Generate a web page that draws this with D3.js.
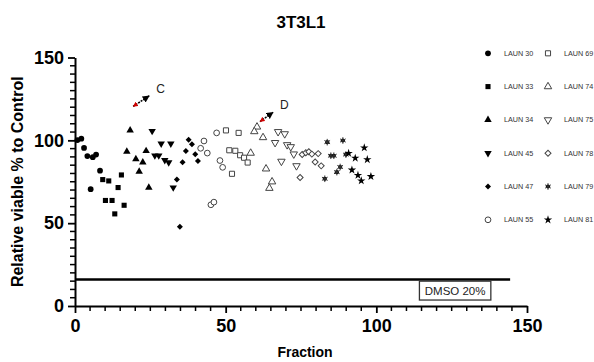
<!DOCTYPE html>
<html>
<head>
<meta charset="utf-8">
<script src="https://cdn.jsdelivr.net/npm/d3@7"></script>
<style>
  body { margin: 0; background: #fff; }
  svg { font-family: "Liberation Sans", Arial, sans-serif; }
</style>
</head>
<body>
<div id="chart"></div>
<script>
// series names and [fraction, viability] pairs
const seriesNames = ["LAUN 30", "LAUN 33", "LAUN 34", "LAUN 45", "LAUN 47", "LAUN 55",
                     "LAUN 69", "LAUN 74", "LAUN 75", "LAUN 78", "LAUN 79", "LAUN 81"];

const laun30 = [[0.8, 100.2], [2.1, 101], [3.0, 95.4], [4.1, 90.5], [5.9, 89.8], [7.0, 91.4], [8.3, 81.7], [5.2, 70.5]];
const laun33 = [[9.2, 76.3], [11.2, 75.5], [15.4, 79.1], [14.3, 71.5], [10.1, 63.7], [12.3, 63.7], [16.3, 60.8], [13.2, 55.6]];
const laun34 = [[18.3, 106], [17.2, 93.2], [20.2, 88.7], [23.6, 93.6], [22.5, 86.7], [21.3, 81.1], [24.5, 71.5]];
const laun45 = [[25.6, 105.6], [28.6, 98], [31.8, 98], [26.5, 90.8], [27.8, 90.8], [29.8, 88], [31.1, 86.7], [32.6, 71.5]];
const laun47 = [[37.7, 100.4], [38.8, 97.6], [36.8, 93.6], [39.9, 91.6], [35.7, 86.7], [40.8, 87.5], [33.8, 76.3], [34.8, 47.8]];
const laun55 = [[47.0, 104.5], [42.8, 99.6], [41.7, 95.2], [43.9, 92.3], [48.1, 87.8], [49.0, 83.7], [45.1, 61.1], [46.1, 62.7]];
const laun69 = [[50.1, 106], [54.3, 104.5], [51.2, 94], [53.2, 93.7], [54.8, 91], [56.1, 89.5], [57.3, 86.6], [52.1, 79.8]];
const laun74 = [[60.4, 108.1], [59.5, 105.3], [62.4, 101.7], [58.3, 92.3], [63.4, 82.8], [65.4, 75], [64.5, 71.1]];
const laun75 = [[67.4, 105.2], [69.6, 103.9], [66.4, 98.6], [70.4, 97.3], [71.6, 96.1], [72.6, 91.7], [68.5, 87.3], [73.5, 84.6]];
const laun78 = [[75.4, 91.4], [76.6, 92.5], [77.6, 93.1], [78.6, 91.7], [80.7, 92], [79.7, 86.9], [81.7, 84.6], [74.7, 77.6]];
const laun79 = [[83.7, 98.9], [88.9, 99.9], [84.9, 90.7], [85.9, 90.7], [89.9, 91.4], [88.0, 83.9], [86.9, 80.8], [82.9, 76.8]];
const laun81 = [[90.8, 92.2], [93.0, 89.3], [96.0, 95.5], [97.0, 88.4], [91.9, 82.1], [93.9, 78.9], [95.0, 75.6], [98.2, 78.2]];

const seriesValues = [laun30, laun33, laun34, laun45, laun47, laun55, laun69, laun74, laun75, laun78, laun79, laun81];

// symbol kind per series
const seriesShapes = ["circle", "square", "triUp", "triDown", "diamond", "circle",
                      "square", "triUp", "triDown", "diamond", "sun", "star"];
const seriesFilled = [true, true, true, true, true, false, false, false, false, false, true, true];

const xTicks = [0, 50, 100, 150];
const yTicks = [0, 50, 100, 150];

// DMSO 20% reference level
const dmsoLevel = 16;
const dmsoEnd = 144.4;

// arrow annotations: [fromX, fromY, toX, toY, label]
const arrows = [
  [19.3, 120.5, 24.6, 126.8, "C"],
  [61.4, 111.3, 65.7, 116.9, "D"]
];

const W = 594, H = 362;
const margin = { top: 57.5, left: 75, bottom: 56, right: 67 };

const svg = d3.select("#chart").append("svg")
  .attr("width", W).attr("height", H);

const x = d3.scaleLinear().domain([0, 150]).range([margin.left, W - margin.right]);
const y = d3.scaleLinear().domain([0, 150]).range([H - margin.bottom, margin.top]);

// Title
svg.append("text")
  .attr("x", 301).attr("y", 28)
  .attr("text-anchor", "middle")
  .attr("font-size", "17px").attr("font-weight", "bold")
  .text("3T3L1");

// Axes
const xAxis = svg.append("g")
  .attr("transform", `translate(0,${y(0)})`)
  .call(d3.axisBottom(x).tickValues(xTicks).tickSize(7).tickSizeOuter(0).tickPadding(6));
xAxis.append("g").selectAll("line")
  .data(d3.range(5, 150, 5).filter(v => v % 50 !== 0)).enter()
  .append("line")
  .attr("x1", d => x(d)).attr("x2", d => x(d))
  .attr("y1", 0).attr("y2", 5)
  .attr("stroke", "#000").attr("stroke-width", 1.5);

const yAxis = svg.append("g")
  .attr("transform", `translate(${x(0)},0)`)
  .call(d3.axisLeft(y).tickValues(yTicks).tickSize(7).tickSizeOuter(0).tickPadding(4));
yAxis.append("g").selectAll("line")
  .data(d3.range(5, 150, 5).filter(v => v % 50 !== 0)).enter()
  .append("line")
  .attr("y1", d => y(d)).attr("y2", d => y(d))
  .attr("x1", 0).attr("x2", -5)
  .attr("stroke", "#000").attr("stroke-width", 1.5);

[xAxis, yAxis].forEach(a => {
  a.select(".domain").attr("stroke-width", 2);
  a.selectAll(".tick line").attr("stroke-width", 1.8);
  a.selectAll(".tick text")
    .attr("font-size", "18px").attr("font-weight", "bold")
    .attr("font-family", "'Liberation Sans', Arial, sans-serif")
    .attr("fill", "#000");
});

// Axis labels
svg.append("text")
  .attr("x", 305).attr("y", 357)
  .attr("text-anchor", "middle")
  .attr("font-size", "14px").attr("font-weight", "bold")
  .text("Fraction");

svg.append("text")
  .attr("transform", `translate(23,${(y(0) + y(150)) / 2}) rotate(-90)`)
  .attr("text-anchor", "middle")
  .attr("font-size", "16px").attr("font-weight", "bold")
  .text("Relative viable % to Control");

// DMSO line + label box
svg.append("line")
  .attr("x1", x(0)).attr("x2", x(dmsoEnd))
  .attr("y1", y(dmsoLevel)).attr("y2", y(dmsoLevel))
  .attr("stroke", "#000").attr("stroke-width", 2.5);

const boxG = svg.append("g");
boxG.append("rect")
  .attr("x", x(114.3)).attr("y", y(15))
  .attr("width", x(138) - x(114.3)).attr("height", y(3.6) - y(15))
  .attr("fill", "#fff").attr("stroke", "#333").attr("stroke-width", 1.3);
boxG.append("text")
  .attr("x", (x(114.3) + x(138)) / 2).attr("y", y(3.6) - 5)
  .attr("text-anchor", "middle")
  .attr("font-size", "11.5px")
  .attr("fill", "#222")
  .text("DMSO 20%");

// symbol helpers
function symbolPath(kind) {
  if (kind === "circle") return d3.symbol(d3.symbolCircle, 26)();
  if (kind === "square") return d3.symbol(d3.symbolSquare, 26)();
  if (kind === "triUp" || kind === "triDown") return d3.symbol(d3.symbolTriangle, 24)();
  if (kind === "diamond") return d3.symbol(d3.symbolSquare, 18)();
  if (kind === "star") return d3.symbol(d3.symbolStar, 22)();
  return d3.symbol(d3.symbolCircle, 14)();
}

function drawSymbol(g, kind, filled) {
  let rot = 0;
  if (kind === "triDown") rot = 180;
  if (kind === "diamond") rot = 45;
  g.append("path")
    .attr("d", symbolPath(kind))
    .attr("transform", `rotate(${rot})`)
    .attr("fill", filled ? "#000" : "#fff")
    .attr("stroke", filled ? (kind === "sun" ? "#333" : "none") : "#444")
    .attr("stroke-width", filled ? 0 : 1);
  if (kind === "sun") {
    g.append("path")
      .attr("d", d3.symbol(d3.symbolAsterisk, 30)())
      .attr("fill", "none")
      .attr("stroke", "#333")
      .attr("stroke-width", 1);
  }
}

// points
const pts = svg.append("g").attr("class", "points");
seriesValues.forEach((vals, i) => {
  vals.forEach(v => {
    const g = pts.append("g").attr("transform", `translate(${x(v[0])},${y(v[1])})`);
    drawSymbol(g, seriesShapes[i], seriesFilled[i]);
  });
});

// arrow annotations
const defs = svg.append("defs");
defs.append("marker")
  .attr("id", "headBlack")
  .attr("viewBox", "0 0 10 10")
  .attr("refX", 9).attr("refY", 5)
  .attr("markerWidth", 4.5).attr("markerHeight", 4.5)
  .attr("markerUnits", "strokeWidth")
  .attr("orient", "auto")
  .append("path").attr("d", "M0,0 L10,5 L0,10 z").attr("fill", "#000");
defs.append("marker")
  .attr("id", "headRed")
  .attr("viewBox", "0 0 10 10")
  .attr("refX", 9).attr("refY", 5)
  .attr("markerWidth", 3.2).attr("markerHeight", 3.2)
  .attr("markerUnits", "strokeWidth")
  .attr("orient", "auto-start-reverse")
  .append("path").attr("d", "M0,0 L10,5 L0,10 z").attr("fill", "#d00000");

arrows.forEach(a => {
  svg.append("line")
    .attr("x1", x(a[0])).attr("y1", y(a[1]))
    .attr("x2", x(a[2])).attr("y2", y(a[3]))
    .attr("stroke", "#000").attr("stroke-width", 1.6)
    .attr("stroke-dasharray", "2,1")
    .attr("marker-start", "url(#headRed)")
    .attr("marker-end", "url(#headBlack)");
  svg.append("text")
    .attr("x", x(a[2]) + 7).attr("y", y(a[3]) - 3)
    .attr("font-size", "12px")
    .attr("fill", "#222")
    .text(a[4]);
});

// legend, two columns of six
const legend = svg.append("g").attr("class", "legend");
seriesNames.forEach((name, i) => {
  const col = Math.floor(i / 6), row = i % 6;
  const lg = legend.append("g")
    .attr("transform", `translate(${488 + col * 60},${53.3 + row * 33.3})`);
  drawSymbol(lg.append("g"), seriesShapes[i], seriesFilled[i]);
  lg.append("text")
    .attr("x", 16).attr("y", 2.5)
    .attr("font-size", "7.2px")
    .attr("fill", "#333")
    .text(name);
});
</script>
</body>
</html>
